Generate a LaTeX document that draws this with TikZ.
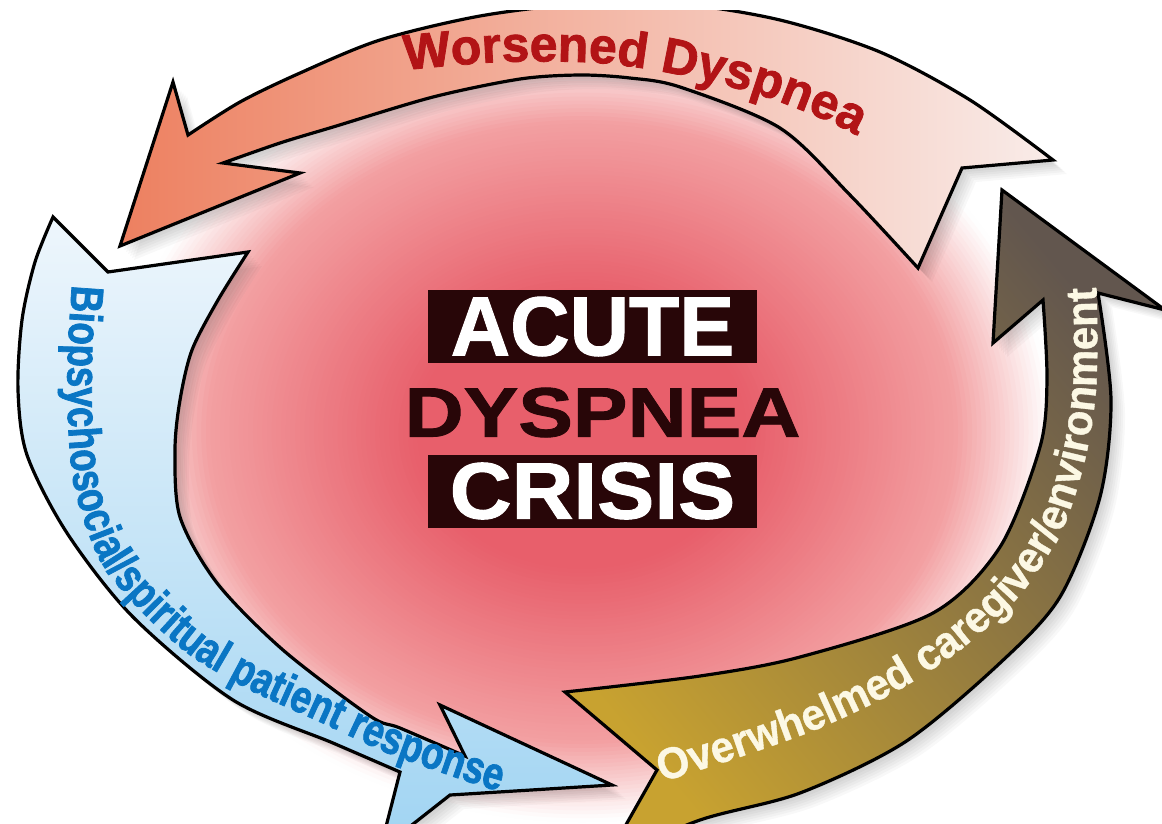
\documentclass[tikz,border=0pt]{standalone}
\usepackage{fontspec}
\usepackage{graphicx}
\usetikzlibrary{decorations.text}
\newfontfamily\lsans[BoldFeatures={FakeBold=1.2}]{Liberation Sans}
\newfontfamily\lsanstop[BoldFeatures={FakeBold=1.6}]{Liberation Sans}
\newfontfamily\lsanscond[FakeStretch=0.8,BoldFeatures={FakeBold=1.6}]{Liberation Sans}
\newfontfamily\lsansbrown[FakeStretch=0.95,BoldFeatures={FakeBold=0.8}]{Liberation Sans}
\definecolor{topA}{RGB}{237,128,96}
\definecolor{topM}{RGB}{244,178,156}
\definecolor{topB}{RGB}{249,236,233}
\definecolor{blueA}{RGB}{238,246,252}
\definecolor{blueB}{RGB}{160,212,242}
\definecolor{brownA}{RGB}{200,162,48}
\definecolor{brownB}{RGB}{98,86,78}
\definecolor{toptext}{RGB}{178,20,22}
\definecolor{bluetext}{RGB}{10,118,196}
\definecolor{browntext}{RGB}{252,248,228}
\definecolor{darkbox}{RGB}{40,6,8}
\def\toparrow{plot[smooth] coordinates {(1053,-160) (970,-100) (880,-52) (780,-20) (680,-4) (580,-4) (480,-16) (380,-40) (300,-73) (240,-102) (188,-135)} -- (173,-82) -- (120,-246) -- (300,-173) -- (223,-163) -- plot[smooth] coordinates {(223,-163) (280,-143) (333,-127) (433,-97) (520,-79) (580,-75) (630,-78) (680,-87) (780,-128) (850,-195) (918,-268)} -- (962,-168) -- cycle}
\def\bluearrow{(53,-217) -- (108,-272) -- (248,-252) -- plot[smooth] coordinates {(248,-252) (218,-300) (192,-350) (180,-400) (175,-450) (180,-517) (217,-583) (283,-650) (370,-716) (400,-728) (465,-756)} -- (440,-705) -- (612,-785) -- (450,-795) -- (380,-850) -- (400,-772) -- plot[smooth] coordinates {(400,-772) (333,-743) (233,-700) (133,-617) (67,-533) (27,-455) (18,-390) (22,-320) (35,-262) (53,-217)} -- cycle}
\def\brownarrow{(565,-692) -- (657,-770) -- (606,-860) -- plot[smooth] coordinates {(606,-860) (700,-820) (800,-793) (905,-742) (1000,-663) (1060,-597) (1100,-497) (1111,-400) (1098,-293)} -- (1165,-310) -- (1002,-190) -- (993,-343) -- (1043,-300) -- plot[smooth] coordinates {(1043,-300) (1047,-380) (1040,-447) (1000,-547) (933,-613) (800,-657) (700,-676) (565,-692)} -- cycle}
\begin{document}
\begin{tikzpicture}[x=1pt,y=1pt,line join=miter,miter limit=25,
  outline/.style={draw=black,line width=3.2pt},
  shadowst/.style={fill=black,opacity=0.028},
  boxst/.style={fill=darkbox,text=white,inner sep=0pt,minimum width=329pt,minimum height=73pt},
  bigword/.style={text=darkbox,inner sep=0pt}]
\useasboundingbox (0,0) rectangle (1162,-823);
\fill[white] (0,0) rectangle (1162,-823);
% pink blob
\foreach \i in {0,...,99} {
  \pgfmathsetmacro\r{1-\i/100}
  \pgfmathtruncatemacro\Rc{\r<=0.35 ? 232 : (\r<=0.8 ? 232+(\r-0.35)/0.45*11 : 243+(\r-0.8)/0.2*12)}
  \pgfmathtruncatemacro\Gc{\r<=0.35 ? 95 : (\r<=0.8 ? 95+(\r-0.35)/0.45*65 : 160+(\r-0.8)/0.2*95)}
  \pgfmathtruncatemacro\Bc{\r<=0.35 ? 107 : (\r<=0.8 ? 107+(\r-0.35)/0.45*55 : 162+(\r-0.8)/0.2*93)}
  \definecolor{tmpc}{RGB}{\Rc,\Gc,\Bc}
  \fill[tmpc] (582,-432) ellipse [x radius=470*\r, y radius=390*\r];
}
\begin{scope}
\clip (0,-10) rectangle (1162,-823);
% shadows
\foreach \s in {2,4,6,8,10,12,14} {
  \fill[shadowst,shift={(\s,-\s)}] \toparrow;
  \fill[shadowst,shift={(\s,-\s)}] \bluearrow;
  \fill[shadowst,shift={(\s,-\s)}] \brownarrow;
}
% arrows
\draw[outline,left color=topA,middle color=topM,right color=topB] \toparrow;
\draw[outline,top color=blueA,bottom color=blueB] \bluearrow;
\draw[outline,top color=brownB,bottom color=brownA,shading angle=-50] \brownarrow;
\end{scope}
% curved labels
\path[decorate,decoration={text along path,
  text={|\lsanstop\bfseries\fontsize{50}{60}\selectfont\color{toptext}|Worsened Dyspnea}}]
  plot[smooth] coordinates {(405,-70) (500,-62) (600,-63) (680,-75) (760,-95) (830,-122) (870,-143) (900,-162) (930,-185)};
\path[decorate,decoration={text along path,
  text={|\lsanscond\bfseries\fontsize{46}{56}\selectfont\color{bluetext}|Biopsychosocial/spiritual patient response}}]
  plot[smooth] coordinates {(72,-285) (68,-350) (68,-420) (75,-490) (100,-560) (140,-610) (190,-655) (250,-690) (320,-722) (385,-752) (440,-772) (495,-790) (560,-805) (620,-815)};
\path[decorate,decoration={text along path,
  text={|\lsansbrown\bfseries\fontsize{44}{54}\selectfont\color{browntext}|Overwhelmed caregiver/environment}}]
  plot[smooth] coordinates {(662,-782) (740,-757) (820,-728) (895,-692) (960,-650) (1020,-595) (1062,-530) (1085,-460) (1096,-390) (1097,-310) (1094,-250) (1088,-200)};
% centre title
\node[boxst,font=\lsans\bfseries\fontsize{84}{84}\selectfont] (acute) at (592.5,-326.5) {\scalebox{0.98}[1]{ACUTE}};
\node[bigword,font=\lsans\bfseries\fontsize{70}{70}\selectfont] (dyspnea) at (602.5,-412.5) {\scalebox{1.17}[1]{DYSPNEA}};
\node[boxst,font=\lsans\bfseries\fontsize{80}{80}\selectfont] (crisis) at (592.5,-491) {\scalebox{1.07}[1]{CRISIS}};
\end{tikzpicture}
\end{document}
